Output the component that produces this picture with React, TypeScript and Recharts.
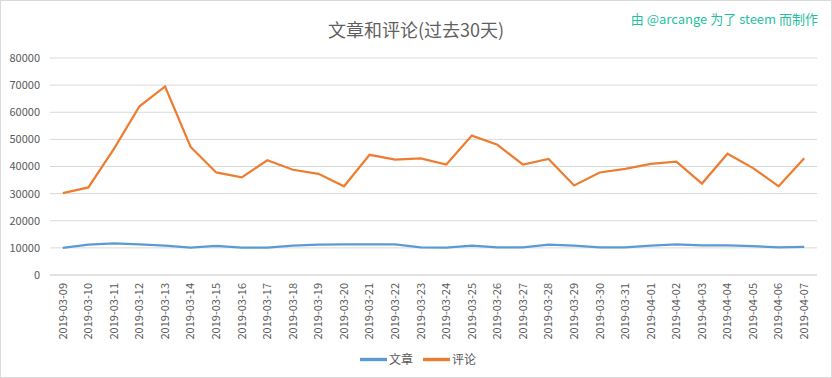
import { LineChart, Line, XAxis, YAxis, CartesianGrid, Legend } from 'recharts'

const dates = [
  '2019-03-09', '2019-03-10', '2019-03-11', '2019-03-12', '2019-03-13', '2019-03-14',
  '2019-03-15', '2019-03-16', '2019-03-17', '2019-03-18', '2019-03-19', '2019-03-20',
  '2019-03-21', '2019-03-22', '2019-03-23', '2019-03-24', '2019-03-25', '2019-03-26',
  '2019-03-27', '2019-03-28', '2019-03-29', '2019-03-30', '2019-03-31', '2019-04-01',
  '2019-04-02', '2019-04-03', '2019-04-04', '2019-04-05', '2019-04-06', '2019-04-07',
]

// 文章 (posts)
const posts = [
  10000, 11200, 11700, 11300, 10800, 10100, 10700, 10100, 10100, 10800,
  11200, 11300, 11300, 11300, 10200, 10100, 10800, 10200, 10200, 11200,
  10800, 10200, 10200, 10800, 11300, 10900, 10900, 10600, 10200, 10400,
]

// 评论 (comments)
const comments = [
  30200, 32300, 46500, 62200, 69500, 47200, 37800, 36000, 42300, 38800,
  37300, 32700, 44300, 42500, 43000, 40700, 51400, 48000, 40700, 42800,
  33000, 37800, 39100, 41000, 41800, 33700, 44700, 39400, 32700, 43000,
]

const yTicks = [0, 10000, 20000, 30000, 40000, 50000, 60000, 70000, 80000]

const FONT = "'Noto Sans CJK SC', 'Noto Sans', sans-serif"
const TEXT = '#595959'
const GRID = '#d9d9d9'

const data = dates.map((d, i) => ({ date: d, posts: posts[i], comments: comments[i] }))

function DateTick({ x, y, payload }: any) {
  return (
    <g transform={`translate(${x},${y})`}>
      <text
        transform="rotate(-90)"
        textAnchor="end"
        dy="0.35em"
        fill={TEXT}
        fontSize={11}
        fontFamily={FONT}
      >
        {payload.value}
      </text>
    </g>
  )
}

export default function App() {
  return (
    <div
      style={{
        position: 'absolute',
        left: 0,
        top: 0,
        width: 832,
        height: 378,
        boxSizing: 'border-box',
        border: `1px solid ${GRID}`,
        background: '#fff',
        fontFamily: FONT,
      }}
    >
      <div
        style={{
          position: 'absolute',
          left: 0,
          right: 0,
          top: 15,
          textAlign: 'center',
          fontSize: 18,
          color: '#5f5f5f',
          lineHeight: '26px',
        }}
      >
        文章和评论(过去30天)
      </div>
      <div
        style={{
          position: 'absolute',
          right: 13,
          top: 9,
          fontSize: 13,
          color: '#1fbf9f',
          lineHeight: '18px',
        }}
      >
        由 @arcange 为了 steem 而制作
      </div>
      <LineChart
        width={830}
        height={376}
        data={data}
        margin={{ top: 57, right: 14, left: 0, bottom: 6 }}
      >
        <CartesianGrid vertical={false} stroke={GRID} />
        <XAxis
          dataKey="date"
          interval={0}
          height={70}
          padding={{ left: 12.8, right: 12.8 }}
          axisLine={{ stroke: GRID }}
          tickLine={false}
          tickSize={0}
          tickMargin={8}
          tick={<DateTick />}
        />
        <YAxis
          width={49}
          domain={[0, 80000]}
          ticks={yTicks}
          axisLine={false}
          tickLine={false}
          tickSize={0}
          tickMargin={10}
          tick={{ fill: TEXT, fontSize: 11, fontFamily: FONT }}
        />
        <Legend
          verticalAlign="bottom"
          height={26}
          iconType="plainline"
          iconSize={27}
          wrapperStyle={{ paddingLeft: 14 }}
          formatter={(value: string) => (
            <span style={{ color: TEXT, fontSize: 12, fontFamily: FONT, marginLeft: -2 }}>{value}</span>
          )}
        />
        <Line
          type="linear"
          dataKey="posts"
          name="文章"
          stroke="#5b9bd5"
          strokeWidth={2.25}
          dot={false}
          isAnimationActive={false}
        />
        <Line
          type="linear"
          dataKey="comments"
          name="评论"
          stroke="#ed7d31"
          strokeWidth={2.25}
          dot={false}
          isAnimationActive={false}
        />
      </LineChart>
    </div>
  )
}
